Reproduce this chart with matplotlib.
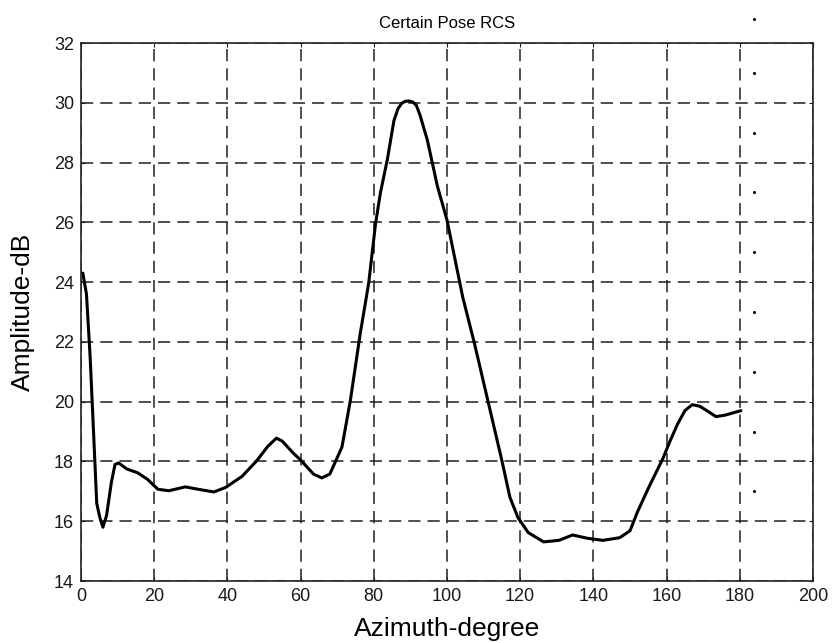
import matplotlib
matplotlib.use("Agg")
import matplotlib.pyplot as plt
import numpy as np

plt.rcParams['font.family'] = ['Liberation Sans', 'DejaVu Sans']

# azimuth (deg) and RCS amplitude (dB)
azimut = [0.5, 1.5, 2.5, 3.5, 4.3, 5.2, 6.0, 7.0, 8.3, 9.3, 10.3, 12.5, 15.5, 18.2,
          21, 24, 28.5, 32, 36.3, 39.5, 44, 48, 51, 53.4, 55, 58, 60, 63.5, 65.8,
          68, 71.3, 73.6, 76.3, 78.6, 80.5, 81.8, 83.7, 85.5, 86.6, 87.6, 88.6,
          89.6, 90.6, 91.6, 92.6, 94.6, 97.4, 100, 104.3, 107.5, 112, 115, 117.2,
          119.4, 122.2, 126.4, 130.6, 134.3, 138.4, 142.6, 147.2, 150, 152, 155,
          157, 159, 161, 163, 165, 167, 169, 171, 173.5, 176, 178, 180.3]
amplitude = [24.3, 23.6, 21.5, 18.8, 16.6, 16.1, 15.8, 16.2, 17.3, 17.9, 17.95, 17.75,
             17.62, 17.4, 17.07, 17.02, 17.15, 17.07, 16.98, 17.13, 17.5, 18.02,
             18.5, 18.78, 18.68, 18.28, 18.05, 17.58, 17.45, 17.58, 18.48, 20.04,
             22.28, 23.96, 25.97, 26.98, 28.1, 29.4, 29.8, 29.98, 30.05, 30.06,
             30.03, 29.92, 29.6, 28.77, 27.2, 26.08, 23.5, 21.95, 19.6, 18.03,
             16.8, 16.12, 15.62, 15.31, 15.36, 15.54, 15.43, 15.36, 15.45, 15.68,
             16.3, 17.1, 17.6, 18.1, 18.7, 19.25, 19.7, 19.9, 19.85, 19.7, 19.5,
             19.55, 19.62, 19.7]

# stray dots right of the curve in the scanned figure
pontos_x = [183.9] * 9
pontos_y = [32.8, 31, 29, 27, 25, 23, 21, 19, 17]

fig = plt.figure(figsize=(8.34, 6.43), dpi=100)
ax = fig.add_axes([0.0971, 0.0964, 0.8777, 0.8367])

ax.plot(azimut, amplitude, color='black', lw=2.2, solid_joinstyle='round',
        solid_capstyle='round')
ax.plot(pontos_x, pontos_y, 'o', color='black', ms=1.2, clip_on=False)

ax.set_xlim(0, 200)
ax.set_ylim(14, 32)
ax.set_xticks(np.arange(0, 201, 20))
ax.set_yticks(np.arange(14, 33, 2))

ax.grid(True, color='#1f1f1f', lw=1.1, linestyle=(0, (8, 4.6)))
ax.tick_params(direction='in', length=3, width=0.8, top=True, right=True,
               labelsize=13, colors='#1a1a1a', pad=5)
for s in ax.spines.values():
    s.set_linewidth(1.2)
    s.set_color('#222222')

ax.set_title('Certain Pose RCS', fontsize=12, pad=11)
ax.set_xlabel('Azimuth-degree', fontsize=19)
ax.set_ylabel('Amplitude-dB', fontsize=19)
ax.xaxis.set_label_coords(0.5, -0.067)
ax.yaxis.set_label_coords(-0.063, 0.5)

fig.savefig('out.png', dpi=100)
